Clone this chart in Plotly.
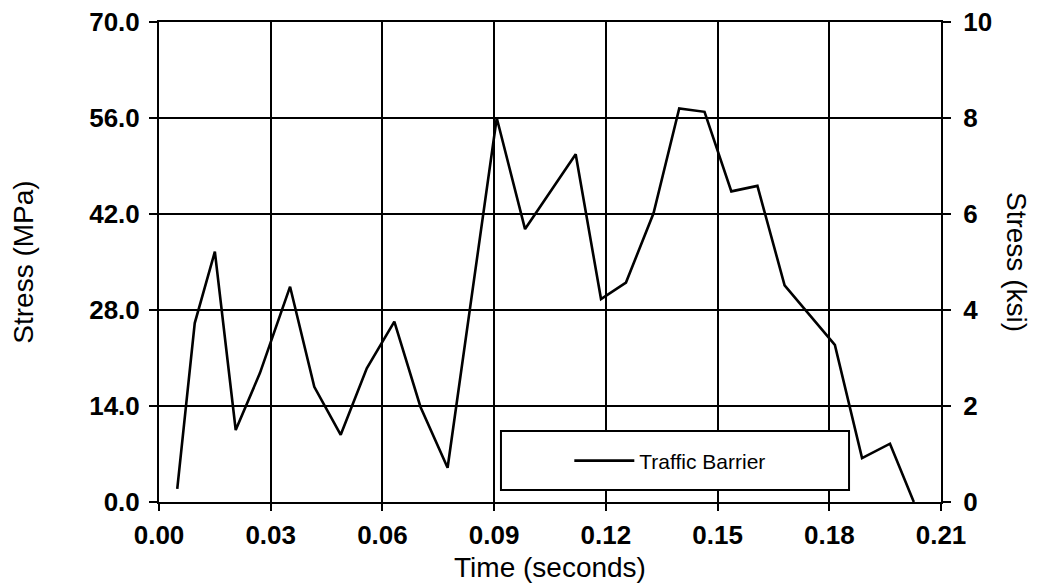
import plotly.graph_objects as go

# Data
time_s = [0.0049, 0.0096, 0.0150, 0.0206, 0.0271, 0.0352, 0.0417, 0.0488, 0.0558,
          0.0632, 0.0702, 0.0775, 0.0907, 0.0983, 0.1119, 0.1187, 0.1254, 0.1328,
          0.1397, 0.1465, 0.1537, 0.1607, 0.1680, 0.1792, 0.1815, 0.1888, 0.1963, 0.2027]
stress_mpa = [1.9, 26.1, 36.5, 10.5, 18.8, 31.4, 16.8, 9.8, 19.5,
              26.3, 13.9, 5.0, 56.0, 39.8, 50.7, 29.6, 32.0, 42.1,
              57.4, 56.9, 45.3, 46.1, 31.6, 24.5, 22.9, 6.4, 8.5, 0.0]

x_ticks = [0.00, 0.03, 0.06, 0.09, 0.12, 0.15, 0.18, 0.21]
y_ticks_mpa = [0.0, 14.0, 28.0, 42.0, 56.0, 70.0]
y_ticks_ksi = [0, 2, 4, 6, 8, 10]
series_name = "Traffic Barrier"

FONT = "Arial, 'Liberation Sans', sans-serif"
PLOT_LEFT, PLOT_W = 159, 782  # page pixels of the plot area

fig = go.Figure()
fig.add_trace(go.Scatter(x=time_s, y=stress_mpa, mode="lines", name=series_name,
                         line=dict(color="black", width=2.6)))
fig.add_trace(go.Scatter(x=[], y=[], yaxis="y2", showlegend=False, hoverinfo="skip"))

fig.update_layout(
    width=1030, height=580,
    margin=dict(l=151, r=97, t=14, b=86, autoexpand=False),
    paper_bgcolor="white", plot_bgcolor="white",
    font=dict(family=FONT, color="black"),
    xaxis=dict(range=[0, 0.21], tickvals=x_ticks, tickformat=".2f", automargin=False,
               showgrid=True, gridcolor="black", gridwidth=2,
               showline=True, linecolor="black", linewidth=2, mirror=True,
               ticks="outside", ticklen=7, tickwidth=2, tickcolor="black",
               tickfont=dict(size=26, weight="bold"), ticklabelstandoff=2,
               ticklabeloverflow="allow",
               zeroline=False,
               title=dict(text="Time (seconds)", font=dict(size=28), standoff=8)),
    yaxis=dict(range=[0, 70], tickvals=y_ticks_mpa, tickformat=".1f", automargin=False,
               showgrid=True, gridcolor="black", gridwidth=2,
               showline=True, linecolor="black", linewidth=2, mirror=True,
               ticks="outside", ticklen=8, tickwidth=2, tickcolor="black",
               tickfont=dict(size=26, weight="bold"), ticklabelstandoff=4,
               ticklabeloverflow="allow",
               zeroline=False,
               title=dict(text="Stress (MPa)", font=dict(size=28), standoff=48)),
    yaxis2=dict(range=[0, 10], tickvals=y_ticks_ksi, overlaying="y", side="right",
                automargin=False,
                showgrid=False, zeroline=False, showline=False,
                ticks="outside", ticklen=9, tickwidth=2, tickcolor="black",
                tickfont=dict(size=26, weight="bold"), ticklabelstandoff=7,
                ticklabeloverflow="allow"),
    showlegend=True,
    legend=dict(x=0.5247, y=0.0854, xanchor="left", yanchor="middle",
                bgcolor="rgba(0,0,0,0)", borderwidth=0, itemwidth=60,
                font=dict(size=21, color="black")),
    shapes=[dict(type="rect", xref="paper", yref="paper",
                 x0=0.4373, x1=0.8824, y0=0.025, y1=0.148,
                 line=dict(color="black", width=2), fillcolor="white", layer="above")],
    annotations=[dict(text="Stress (ksi)", textangle=90, xref="paper", yref="paper",
                      x=(1017 - PLOT_LEFT) / PLOT_W, y=0.5, xanchor="center", yanchor="middle",
                      showarrow=False, font=dict(size=28, color="black"))],
)

fig.write_html("out.html")
